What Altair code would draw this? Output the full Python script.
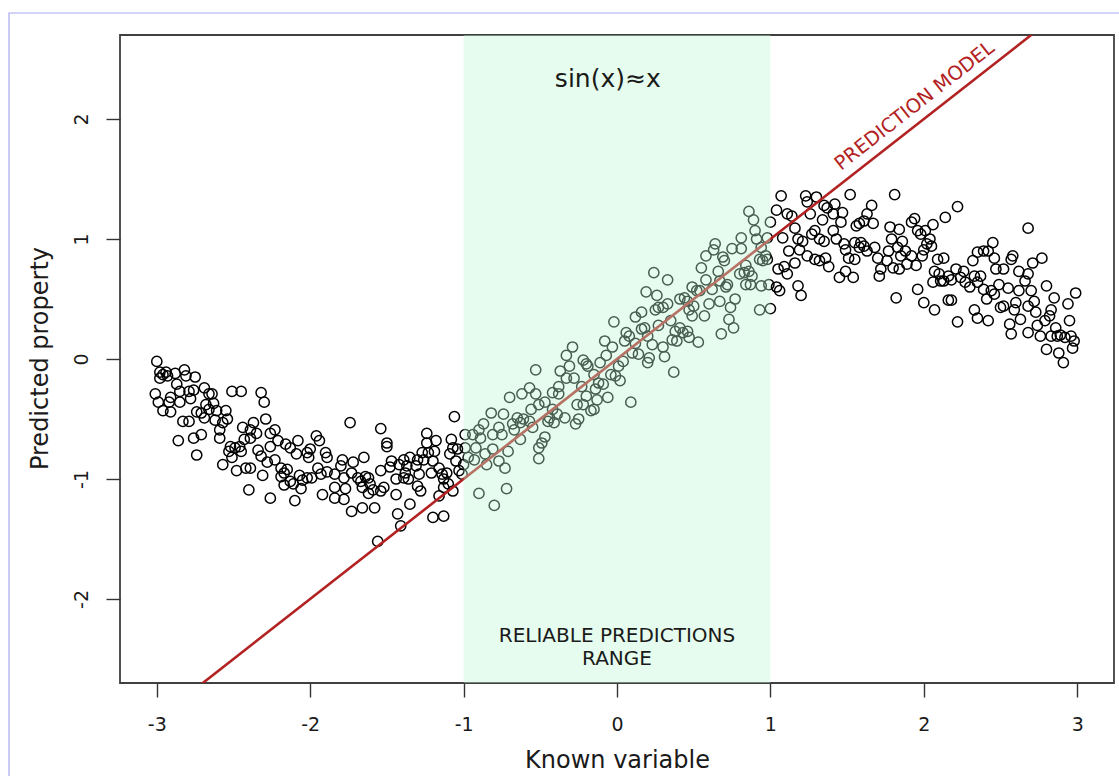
import altair as alt
import pandas as pd

# ---- scatter values (four x-segments) ----
seg1_x = [-3.00,-2.98,-2.96,-2.94,-2.98,-2.93,-2.88,-2.82,-2.81,-2.75,
          -2.87,-3.01,-2.91,-2.85,-2.85,-2.79,-2.76,-2.78,-2.99,-2.92,
          -2.96,-2.91,-2.69,-2.66,-2.64,-2.68,-2.63,-2.74,-2.71,-2.66,
          -2.61,-2.55,-2.69,-2.62,-2.57,-2.54,-2.83,-2.79,-2.86,-2.76,
          -2.71,-2.74,-2.59,-2.59,-2.51,-2.45,-2.32,-2.30,-2.29,-2.44,
          -2.37,-2.39,-2.35,-2.43,-2.39,-2.52,-2.49,-2.46,-2.53,-2.51,
          -2.45,-2.57,-2.48,-2.42,-2.39,-2.34,-2.32,-2.28,-2.31,-2.40,
          -2.26,-2.10,-2.26,-2.23,-2.21,-2.26,-2.16,-2.13,-2.08,-2.09,
          -2.02,-2.01,-1.96,-1.94,-1.90,-1.89,-2.23,-2.19,-2.17,-2.19,
          -2.15,-2.13,-2.17,-2.11,-2.07,-2.05,-2.06,-2.02,-1.99,-1.95,
          -1.93,-1.89,-1.92,-2.00]
seg1_y = [-0.02,-0.11,-0.13,-0.11,-0.16,-0.14,-0.12,-0.09,-0.14,-0.15,
          -0.21,-0.29,-0.32,-0.27,-0.36,-0.27,-0.26,-0.33,-0.36,-0.36,
          -0.43,-0.44,-0.24,-0.29,-0.29,-0.38,-0.37,-0.44,-0.45,-0.42,
          -0.43,-0.43,-0.49,-0.51,-0.53,-0.50,-0.52,-0.52,-0.68,-0.66,
          -0.63,-0.80,-0.59,-0.66,-0.27,-0.27,-0.28,-0.36,-0.50,-0.57,
          -0.53,-0.59,-0.62,-0.67,-0.66,-0.73,-0.74,-0.73,-0.77,-0.82,
          -0.77,-0.88,-0.93,-0.91,-0.91,-0.76,-0.81,-0.86,-0.97,-1.09,
          -1.16,-1.18,-0.62,-0.59,-0.68,-0.73,-0.71,-0.74,-0.68,-0.79,
          -0.78,-0.82,-0.64,-0.68,-0.78,-0.82,-0.84,-0.91,-0.95,-0.98,
          -0.92,-1.02,-1.05,-1.04,-0.97,-1.01,-1.08,-0.99,-0.99,-0.91,
          -0.96,-0.94,-1.13,-0.75]

seg2_x = [-1.74,-1.54,-1.50,-1.50,-1.79,-1.80,-1.72,-1.65,-1.84,-1.78,
          -1.84,-1.77,-1.84,-1.78,-1.73,-1.69,-1.67,-1.64,-1.62,-1.66,
          -1.61,-1.59,-1.54,-1.52,-1.54,-1.62,-1.73,-1.66,-1.58,-1.47,
          -1.48,-1.42,-1.39,-1.44,-1.39,-1.38,-1.36,-1.37,-1.44,-1.35,
          -1.43,-1.41,-1.56,-1.35,-1.30,-1.31,-1.26,-1.29,-1.30,-1.28,
          -1.24,-1.24,-1.18,-1.23,-1.19,-1.27,-1.20,-1.16,-1.21,-1.14,
          -1.13,-1.11,-1.16,-1.13,-1.10,-1.07,-1.20,-1.13,-1.08,-1.06,
          -1.07,-1.04,-1.05,-1.03,-1.09]
seg2_y = [-0.53,-0.58,-0.70,-0.73,-0.84,-0.89,-0.86,-0.82,-0.96,-0.99,
          -1.07,-1.08,-1.16,-1.17,-0.95,-0.99,-1.02,-0.98,-0.99,-1.07,
          -1.04,-1.09,-1.10,-1.07,-0.93,-1.12,-1.27,-1.24,-1.24,-0.85,
          -0.90,-0.88,-0.84,-1.00,-0.99,-0.95,-1.00,-0.89,-1.13,-1.21,
          -1.29,-1.39,-1.52,-0.82,-0.84,-0.89,-0.84,-0.96,-1.06,-1.10,
          -0.62,-0.70,-0.68,-0.78,-0.77,-0.78,-0.85,-0.91,-0.95,-0.96,
          -1.00,-0.95,-1.14,-1.07,-1.04,-1.10,-1.32,-1.31,-0.67,-0.48,
          -0.74,-0.75,-0.85,-0.93,-0.79]

seg3_x = [-0.99,-0.94,-0.90,-0.87,-0.99,-0.97,-0.93,-0.92,-0.86,-0.81,
          -0.81,-0.77,-0.75,-0.82,-0.74,-0.70,-0.89,-1.00,-1.01,-0.85,
          -0.77,-0.73,-0.71,-0.90,-0.80,-0.72,-0.68,-0.65,-0.63,-0.61,
          -0.67,-0.63,-0.57,-0.55,-0.62,-0.57,-0.53,-0.53,-0.56,-0.51,
          -0.47,-0.49,-0.51,-0.47,-0.51,-0.44,-0.42,-0.39,-0.45,-0.41,
          -0.42,-0.38,-0.37,-0.33,-0.29,-0.31,-0.28,-0.33,-0.38,-0.34,
          -0.27,-0.25,-0.26,-0.22,-0.20,-0.23,-0.20,-0.19,-0.22,-0.15,
          -0.12,-0.09,-0.14,-0.13,-0.17,-0.15,-0.06,-0.07,-0.08,-0.03,
          -0.11,-0.04,-0.01,0.02,0.04,0.01,-0.02,0.05,0.08,0.06,
          0.10,0.12,0.09,0.14,0.16,0.12,0.16,0.18,0.20,0.21,
          0.20,0.23,0.27,0.30,0.31,0.19,0.26,0.25,0.30,0.33,
          0.27,0.24,0.33,0.37,0.35,0.38,0.41,0.43,0.36,0.39,
          0.46,0.47,0.53,0.41,0.46,0.44,0.49,0.52,0.50,0.47,
          0.49,0.57,0.54,0.58,0.62,0.60,0.67,0.68,0.73,0.76,
          0.74,0.77,0.71,0.72,0.67,0.55,0.58,0.63,0.64,0.69,
          0.70,0.66,0.75,0.81,0.81,0.84,0.86,0.83,0.80,0.88,
          0.87,0.84,0.86,0.89,0.90,0.91,0.94,0.93,0.95,0.97,
          0.94,0.93]
seg3_y = [-0.63,-0.63,-0.59,-0.54,-0.74,-0.82,-0.84,-0.74,-0.79,-0.75,
          -0.63,-0.57,-0.63,-0.45,-0.46,-0.32,-0.66,-0.88,-0.96,-0.88,
          -0.85,-0.91,-0.77,-1.12,-1.22,-1.08,-0.54,-0.49,-0.53,-0.50,
          -0.59,-0.67,-0.52,-0.57,-0.29,-0.24,-0.29,-0.09,-0.42,-0.38,
          -0.36,-0.70,-0.74,-0.65,-0.83,-0.49,-0.42,-0.46,-0.52,-0.53,
          -0.28,-0.23,-0.10,0.03,0.10,-0.06,-0.16,-0.16,-0.29,-0.49,
          -0.54,-0.50,-0.38,-0.38,-0.31,-0.23,-0.04,-0.06,-0.01,-0.13,
          -0.20,-0.21,-0.25,-0.34,-0.43,-0.42,-0.32,0.03,0.15,0.10,
          -0.03,-0.13,-0.14,-0.18,-0.02,-0.06,0.31,0.15,0.19,0.22,
          0.05,0.13,-0.36,0.04,0.25,0.35,0.39,0.26,0.19,0.01,
          -0.03,0.12,0.28,0.10,0.02,0.56,0.53,0.41,0.43,0.46,
          0.43,0.72,0.66,-0.11,0.32,0.23,0.26,0.22,0.16,0.15,
          0.23,0.18,0.14,0.50,0.48,0.51,0.60,0.57,0.44,0.41,
          0.36,0.36,0.57,0.66,0.58,0.46,0.48,0.21,0.33,0.26,
          0.43,0.50,0.60,0.62,0.65,0.76,0.86,0.91,0.96,0.85,
          0.82,0.73,0.92,1.01,0.92,0.78,0.73,0.72,0.71,0.69,
          0.62,0.62,1.23,1.16,1.07,1.00,0.93,0.83,0.82,0.86,
          0.61,0.41]

seg4_x = [0.98,0.98,0.99,1.04,1.06,
          1.00,1.00,1.04,1.07,1.08,1.11,1.14,1.16,1.12,1.18,
          1.21,1.19,1.05,1.09,1.11,1.16,1.18,1.20,1.23,1.24,
          1.30,1.26,1.29,1.27,1.32,1.35,1.34,1.24,1.29,1.32,
          1.36,1.38,1.35,1.37,1.42,1.41,1.47,1.46,1.41,1.43,
          1.48,1.49,1.51,1.55,1.45,1.49,1.54,1.52,1.56,1.58,
          1.61,1.63,1.66,1.67,1.59,1.61,1.55,1.58,1.63,1.68,
          1.70,1.72,1.71,1.76,1.77,1.80,1.78,1.84,1.81,1.79,
          1.83,1.84,1.86,1.88,1.92,1.89,1.85,1.82,1.92,1.94,
          1.96,1.98,2.01,2.06,2.04,2.02,2.00,1.95,1.99,2.05,
          2.14,2.22,2.09,2.13,2.07,2.10,2.06,2.13,2.16,2.11,
          2.18,2.21,2.24,2.26,2.27,2.30,2.32,2.33,2.37,2.35,
          2.39,2.42,2.45,2.46,2.47,2.52,2.58,2.57,2.62,2.68,
          2.71,2.77,2.68,1.96,2.00,2.07,2.16,2.18,2.22,2.33,
          2.35,2.42,2.39,2.41,2.44,2.46,2.49,2.50,2.52,2.55,
          2.56,2.57,2.60,2.62,2.63,2.66,2.68,2.68,2.70,2.72,
          2.73,2.74,2.76,2.79,2.80,2.80,2.82,2.83,2.83,2.85,
          2.86,2.87,2.88,2.91,2.89,2.92,2.94,2.95,2.96,2.98,
          2.99,2.97,2.59,2.35]
seg4_y = [1.01,0.83,0.62,0.60,0.57,
          0.42,1.14,1.24,1.36,1.01,1.21,1.19,1.09,0.90,1.00,
          0.98,0.91,0.75,0.77,0.71,0.80,0.61,0.53,1.36,1.31,
          1.35,1.21,1.07,1.04,1.00,0.98,1.16,0.86,0.83,0.82,
          0.84,0.77,1.28,1.26,1.29,1.21,1.22,1.14,1.07,1.00,
          0.96,0.91,0.84,0.83,0.68,0.73,0.68,1.37,1.11,1.13,
          1.15,1.21,1.28,1.13,0.97,0.94,0.97,0.93,0.90,0.93,
          0.84,0.75,0.69,0.82,0.90,0.76,1.10,1.08,1.37,1.00,
          0.93,0.75,0.98,0.90,0.86,0.79,0.86,0.51,1.14,1.17,
          1.07,1.04,1.07,1.12,1.00,0.96,0.91,0.78,0.86,0.94,
          1.18,1.27,0.83,0.84,0.73,0.71,0.64,0.65,0.69,0.65,
          0.66,0.75,0.68,0.73,0.64,0.60,0.82,0.69,0.69,0.89,
          0.90,0.90,0.97,0.84,0.75,0.75,0.86,0.83,0.73,0.71,
          0.80,0.84,1.09,0.58,0.47,0.41,0.49,0.49,0.31,0.41,
          0.34,0.32,0.58,0.50,0.57,0.54,0.62,0.43,0.44,0.59,
          0.29,0.21,0.47,0.57,0.33,0.65,0.44,0.22,0.57,0.48,
          0.39,0.28,0.19,0.32,0.61,0.08,0.36,0.41,0.19,0.51,
          0.26,0.19,0.05,-0.03,0.20,0.18,0.46,0.32,0.19,0.15,
          0.55,0.09,0.41,0.64]

# ---- model line, shaded range, labels ----
line_x = [-3.24, 3.24]
line_y = [-3.24, 3.24]
band_x, band_x2 = [-1.0], [1.0]
band_y, band_y2 = [-2.7], [2.7]
x_ticks = [-3, -2, -1, 0, 1, 2, 3]
y_ticks = [-2, -1, 0, 1, 2]
x_domain = [-3.24, 3.24]
y_domain = [-2.7, 2.7]

xs = seg1_x + seg2_x + seg3_x + seg4_x
ys = seg1_y + seg2_y + seg3_y + seg4_y
n = min(len(xs), len(ys))
pts = pd.DataFrame({"x": xs[:n], "y": ys[:n]})

FONT = "DejaVu Sans"
xsc = alt.Scale(domain=x_domain, nice=False, zero=False)
ysc = alt.Scale(domain=y_domain, nice=False, zero=False)

X = alt.X("x:Q", scale=xsc, title="Known variable",
          axis=alt.Axis(values=x_ticks, labelExpr="'' + datum.value", tickSize=14,
                        tickColor="#333333", tickWidth=1.4, labelFontSize=19,
                        labelColor="#1a1a1a", labelPadding=18, domain=False, grid=False,
                        titleFontSize=24, titleFontWeight="normal", titleColor="#1a1a1a",
                        titleY=77, titleBaseline="middle"))
Y = alt.Y("y:Q", scale=ysc, title="Predicted property",
          axis=alt.Axis(values=y_ticks, labelExpr="'' + datum.value", tickSize=14,
                        tickColor="#333333", tickWidth=1.4, labelFontSize=19,
                        labelColor="#1a1a1a", labelAngle=270, labelAlign="center",
                        labelBaseline="middle", labelPadding=25, domain=False, grid=False,
                        titleFontSize=24, titleFontWeight="normal", titleColor="#1a1a1a",
                        titleAngle=270, titleX=-80, titleY=323, titleAlign="center",
                        titleBaseline="middle"))

points = alt.Chart(pts).mark_point(shape="circle", filled=False, size=105,
                                   strokeWidth=1.5, color="black", opacity=1).encode(x=X, y=Y)

line = alt.Chart(pd.DataFrame({"x": line_x, "y": line_y})).mark_line(
    color="#b22222", strokeWidth=2.6, clip=True).encode(
    x=alt.X("x:Q", scale=xsc), y=alt.Y("y:Q", scale=ysc))

band = alt.Chart(pd.DataFrame({"x": band_x, "x2": band_x2, "y": band_y, "y2": band_y2})).mark_rect(
    color="#bdf7d2", opacity=0.38).encode(
    x=alt.X("x:Q", scale=xsc), x2="x2:Q", y=alt.Y("y:Q", scale=ysc), y2="y2:Q")

title_df = pd.DataFrame({"x": [-0.06], "y": [2.33], "t": ["sin(x)≈x"]})
title_txt = alt.Chart(title_df).mark_text(font=FONT, fontSize=25, color="#1a1a1a",
                                          baseline="middle", align="center").encode(
    x=alt.X("x:Q", scale=xsc), y=alt.Y("y:Q", scale=ysc), text="t:N")

range_df = pd.DataFrame({"x": [0.0, 0.0], "y": [-2.308, -2.50],
                         "t": ["RELIABLE PREDICTIONS", "RANGE"]})
range_txt = alt.Chart(range_df).mark_text(font=FONT, fontSize=20, color="#1a1a1a",
                                          baseline="middle", align="center").encode(
    x=alt.X("x:Q", scale=xsc), y=alt.Y("y:Q", scale=ysc), text="t:N")

model_df = pd.DataFrame({"x": [1.94], "y": [2.11], "t": ["PREDICTION MODEL"]})
model_txt = alt.Chart(model_df).mark_text(font=FONT, fontSize=19.5, color="#b22222",
                                          baseline="middle", align="center", angle=322).encode(
    x=alt.X("x:Q", scale=xsc), y=alt.Y("y:Q", scale=ysc), text="t:N")

border = alt.Chart(alt.Data(values=[{}])).mark_rect(
    fill="transparent", stroke="#a8a8f0", strokeWidth=1.2, clip=False).encode(
    x=alt.value(-111), x2=alt.value(1010), y=alt.value(-22), y2=alt.value(760))

chart = alt.layer(points, line, band, title_txt, range_txt, model_txt, border).properties(
    width=994, height=648,
    autosize=alt.AutoSizeParams(type="none"),
    padding={"left": 120, "top": 35, "right": 5, "bottom": 93},
    background="white",
).configure(font=FONT).configure_view(stroke="#404040", strokeWidth=1.8)

chart.save("out.html", embed_options={"renderer": "svg", "actions": False})
